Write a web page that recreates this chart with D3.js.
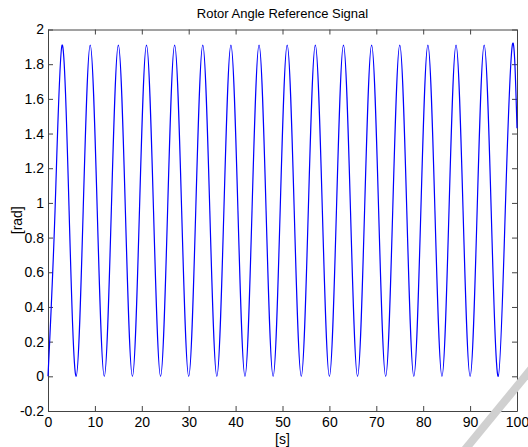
<!DOCTYPE html>
<html>
<head>
<meta charset="utf-8">
<script src="https://cdn.jsdelivr.net/npm/d3@7"></script>
<style>
  body { margin: 0; background: #fff; }
  svg { display: block; font-family: "Liberation Sans", Arial, sans-serif; }
</style>
</head>
<body>
<div id="chart"></div>
<script>
// signal samples (troughs, mid crossings, peaks)
const timeS = [0, 1.5, 3, 4.5, 6, 7.5, 9, 10.5, 12, 13.5, 15, 16.5, 18, 19.5, 21, 22.5,
  24, 25.5, 27, 28.5, 30, 31.5, 33, 34.5, 36, 37.5, 39, 40.5, 42, 43.5, 45, 46.5,
  48, 49.5, 51, 52.5, 54, 55.5, 57, 58.5, 60, 61.5, 63, 64.5, 66, 67.5, 69, 70.5,
  72, 73.5, 75, 76.5, 78, 79.5, 81, 82.5, 84, 85.5, 87, 88.5, 90, 91.5, 93, 94.5,
  96, 97.5, 99, 100];
const angleRad = [0, 0.955, 1.91, 0.955, 0, 0.955, 1.91, 0.955, 0, 0.955, 1.91, 0.955,
  0, 0.955, 1.91, 0.955, 0, 0.955, 1.91, 0.955, 0, 0.955, 1.91, 0.955,
  0, 0.955, 1.91, 0.955, 0, 0.955, 1.91, 0.955, 0, 0.955, 1.91, 0.955,
  0, 0.955, 1.91, 0.955, 0, 0.955, 1.91, 0.955, 0, 0.955, 1.91, 0.955,
  0, 0.955, 1.91, 0.955, 0, 0.955, 1.91, 0.955, 0, 0.955, 1.91, 0.955,
  0, 0.955, 1.91, 0.955, 0, 0.955, 1.91, 1.43];

const xTicks = [0, 10, 20, 30, 40, 50, 60, 70, 80, 90, 100];
const yTicks = [-0.2, 0, 0.2, 0.4, 0.6, 0.8, 1, 1.2, 1.4, 1.6, 1.8, 2];

const width = 528, height = 447;
const margin = { top: 29.5, right: 11, bottom: 36, left: 48 };

const svg = d3.select("#chart").append("svg")
  .attr("width", width)
  .attr("height", height);

const x = d3.scaleLinear().domain([0, 100]).range([margin.left, width - margin.right]);
const y = d3.scaleLinear().domain([-0.2, 2]).range([height - margin.bottom, margin.top]);

const axisColor = "#444";
const fmt = d => String(d);

// axes, ticks pointing inward like matlab
svg.append("g")
  .attr("transform", `translate(0,${y(-0.2)})`)
  .call(d3.axisBottom(x).tickValues(xTicks).tickFormat(fmt).tickSizeInner(-5).tickSizeOuter(0).tickPadding(6));
svg.append("g")
  .attr("transform", `translate(0,${y(2)})`)
  .call(d3.axisTop(x).tickValues(xTicks).tickFormat("").tickSizeInner(-5).tickSizeOuter(0));
svg.append("g")
  .attr("transform", `translate(${x(0)},0)`)
  .call(d3.axisLeft(y).tickValues(yTicks).tickFormat(fmt).tickSizeInner(-5).tickSizeOuter(0).tickPadding(4));
svg.append("g")
  .attr("transform", `translate(${x(100)},0)`)
  .call(d3.axisRight(y).tickValues(yTicks).tickFormat("").tickSizeInner(-5).tickSizeOuter(0));

svg.selectAll(".domain, .tick line").attr("stroke", axisColor);
svg.selectAll(".tick text").attr("fill", "#000").attr("font-size", 14);

// signal
const pts = timeS.map((t, i) => [t, angleRad[i]]);
svg.append("path")
  .datum(pts)
  .attr("fill", "none")
  .attr("stroke", "#0000ff")
  .attr("stroke-width", 1.2)
  .attr("d", d3.line().x(d => x(d[0])).y(d => y(d[1])).curve(d3.curveNatural));

// labels
svg.append("text")
  .attr("x", (x(0) + x(100)) / 2).attr("y", 18)
  .attr("text-anchor", "middle").attr("font-size", 13)
  .text("Rotor Angle Reference Signal");
svg.append("text")
  .attr("x", (x(0) + x(100)) / 2).attr("y", 444)
  .attr("text-anchor", "middle").attr("font-size", 14)
  .text("[s]");
svg.append("text")
  .attr("transform", `translate(22,${(y(-0.2) + y(2)) / 2}) rotate(-90)`)
  .attr("text-anchor", "middle").attr("font-size", 14)
  .text("[rad]");

// faint watermark stroke in the corner
svg.append("line")
  .attr("x1", 463).attr("y1", 452).attr("x2", 532).attr("y2", 368)
  .attr("stroke", "#d0d0d0").attr("stroke-width", 8);
</script>
</body>
</html>
